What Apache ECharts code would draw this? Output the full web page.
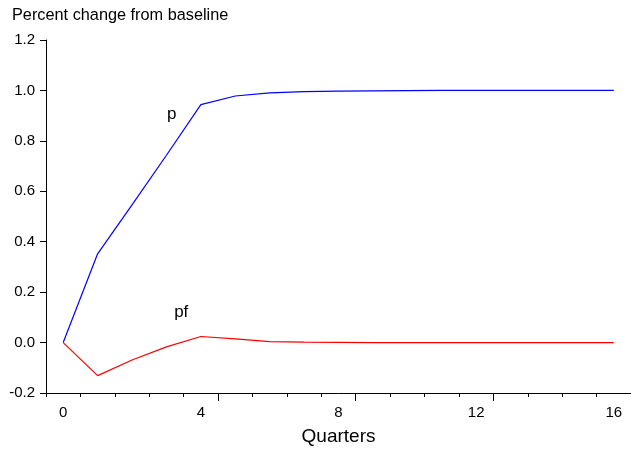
<!DOCTYPE html>
<html>
<head>
    <meta charset="utf-8">
    <title>ECharts</title>
    <script src="https://cdn.jsdelivr.net/npm/echarts@6/dist/echarts.min.js"></script>
    <style>
        html, body { margin: 0; padding: 0; background: #fff; }
    </style>
</head>
<body>
    <div id="main" style="width: 631px;height:451px;"></div>
    <script type="text/javascript">
        // quarters after the shock
        var quarters = [0, 1, 2, 3, 4, 5, 6, 7, 8, 9, 10, 11, 12, 13, 14, 15, 16];
        // responses, percent change from baseline
        var pValues = [0, 0.352, 0.546, 0.743, 0.944, 0.978, 0.990, 0.995, 0.997, 0.998, 0.999, 1.0, 1.0, 1.0, 1.0, 1.0, 1.0];
        var pfValues = [0, -0.131, -0.069, -0.017, 0.024, 0.015, 0.004, 0.002, 0.001, 0.0, 0.0, 0.0, 0.0, 0.0, 0.0, 0.0, 0.0];
        // axis labels and ticks
        var xLabels = [0, 4, 8, 12, 16];
        var xMinorTicks = [-0.5, 0.5, 1.5, 2.5, 3.5, 4.5, 5.5, 6.5, 7.5, 8.5, 9.5, 10.5, 11.5, 12.5, 13.5, 14.5, 15.5, 16.5];
        var xMajorTicks = [4.5, 8.5, 12.5];
        // where the series names sit
        var pLabelAt = [3.15, 0.905];
        var pfLabelAt = [3.43, 0.12];

        var font = 'Liberation Sans, Arial, sans-serif';

        function pairs(vals) {
            return quarters.map(function (q, i) { return [q, vals[i]]; });
        }

        function nameMark(text, coord) {
            return {
                symbol: 'circle',
                symbolSize: 0,
                silent: true,
                label: { show: true, position: 'inside', color: '#000', fontSize: 17, fontFamily: font },
                data: [{ coord: coord, value: text, label: { formatter: text } }]
            };
        }

        var myChart = echarts.init(document.getElementById('main'));
        var option = {
            animation: false,
            backgroundColor: '#fff',
            title: {
                text: 'Percent change from baseline',
                left: 12,
                top: 8,
                padding: 0,
                textStyle: { fontSize: 16.3, fontWeight: 'normal', color: '#000', fontFamily: font }
            },
            grid: { left: 46, right: 0, top: 40, bottom: 58, outerBoundsMode: 'none', containLabel: false },
            xAxis: [
                {
                    type: 'value',
                    min: -0.5,
                    max: 16.5,
                    name: 'Quarters',
                    nameLocation: 'middle',
                    nameGap: 34,
                    nameTextStyle: { fontSize: 19, color: '#000', fontFamily: font },
                    splitLine: { show: false },
                    axisLine: { onZero: false, lineStyle: { color: '#000', width: 1 } },
                    axisTick: { customValues: xMinorTicks, length: 4, lineStyle: { color: '#000' } },
                    axisLabel: { customValues: xLabels, margin: 12, fontSize: 15, color: '#000', fontFamily: font }
                },
                {
                    type: 'value',
                    min: -0.5,
                    max: 16.5,
                    position: 'bottom',
                    splitLine: { show: false },
                    axisLine: { show: false, onZero: false },
                    axisTick: { customValues: xMajorTicks, length: 8, lineStyle: { color: '#000' } },
                    axisLabel: { show: false }
                }
            ],
            yAxis: {
                type: 'value',
                min: -0.2,
                max: 1.2,
                interval: 0.2,
                splitLine: { show: false },
                axisLine: { show: true, onZero: false, lineStyle: { color: '#000', width: 1 } },
                axisTick: { show: true, length: 6, lineStyle: { color: '#000' } },
                axisLabel: {
                    margin: 11,
                    fontSize: 15,
                    color: '#000',
                    fontFamily: font,
                    formatter: function (v) { return v.toFixed(1); }
                }
            },
            series: [
                {
                    name: 'p',
                    type: 'line',
                    data: pairs(pValues),
                    showSymbol: false,
                    lineStyle: { color: '#0000ff', width: 1.2 },
                    itemStyle: { color: '#0000ff' },
                    markPoint: nameMark('p', pLabelAt)
                },
                {
                    name: 'pf',
                    type: 'line',
                    data: pairs(pfValues),
                    showSymbol: false,
                    lineStyle: { color: '#ff0000', width: 1.2 },
                    itemStyle: { color: '#ff0000' },
                    markPoint: nameMark('pf', pfLabelAt)
                }
            ]
        };
        myChart.setOption(option);
    </script>
</body>
</html>
